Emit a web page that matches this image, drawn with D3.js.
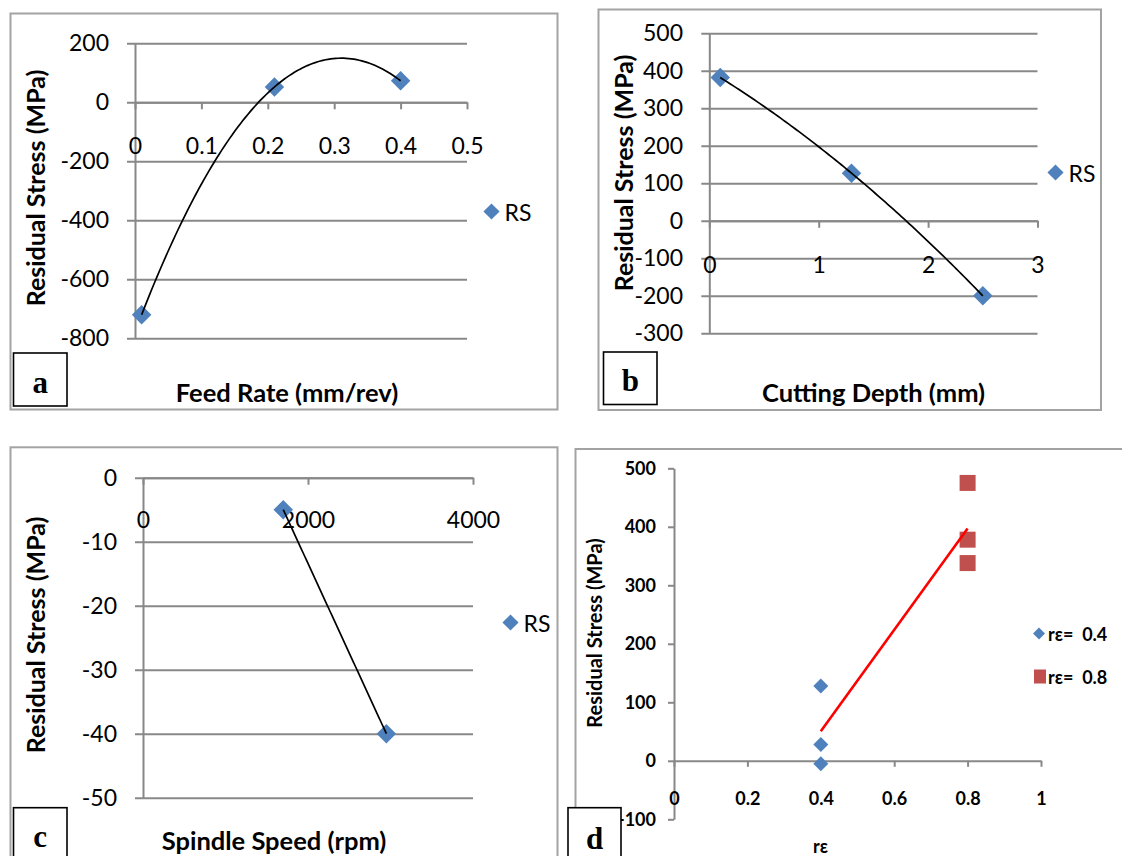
<!DOCTYPE html>
<html>
<head>
<meta charset="utf-8">
<script src="https://cdn.jsdelivr.net/npm/d3@7/dist/d3.min.js"></script>
<style>
  html, body { margin: 0; padding: 0; background: #fff; }
  svg { display: block; }
</style>
</head>
<body>
<svg id="chart" width="1122" height="856"></svg>
<script>
// ---- data ----
const feedRate = [0.01, 0.21, 0.40];
const rsFeed = [-720, 52, 73];
const feedTicks = [0, 0.1, 0.2, 0.3, 0.4, 0.5];
const rsFeedTicks = [200, 0, -200, -400, -600, -800];

const depth = [0.1, 1.3, 2.5];
const rsDepth = [382, 127, -200];
const depthTicks = [0, 1, 2, 3];
const rsDepthTicks = [500, 400, 300, 200, 100, 0, -100, -200, -300];

const speed = [1700, 2950];
const rsSpeed = [-5, -40];
const speedTicks = [0, 2000, 4000];
const rsSpeedTicks = [0, -10, -20, -30, -40, -50];

const radius04 = [0.4, 0.4, 0.4];
const rs04 = [128, 28, -5];
const radius08 = [0.8, 0.8, 0.8];
const rs08 = [475, 378, 338];
const radiusTicks = [0, 0.2, 0.4, 0.6, 0.8, 1];
const rsRadiusTicks = [500, 400, 300, 200, 100, 0, -100];

// ---- styles ----
const BLUE = "#4f81bd", RED = "#c0504d";
const GRID = "#888888", FRAME = "#a3a3a3";
const SANS = "Lato, 'Open Sans', sans-serif";
const SERIF = "'Liberation Serif', 'DejaVu Serif', serif";

// plain hyphen-minus numbers, as in spreadsheet output
const num = v => String(+v.toFixed(6));

const svg = d3.select("#chart");
svg.append("rect").attr("width", 1122).attr("height", 856).attr("fill", "#fff");

// least-squares polynomial fit (normal equations)
function polyfit(xs, ys, deg) {
  const n = deg + 1;
  const A = Array.from({length: n}, () => new Array(n + 1).fill(0));
  for (let r = 0; r < n; r++) {
    for (let c = 0; c < n; c++) A[r][c] = d3.sum(xs, x => Math.pow(x, r + c));
    A[r][n] = d3.sum(xs.map((x, i) => ys[i] * Math.pow(x, r)));
  }
  for (let i = 0; i < n; i++) {
    let p = i;
    for (let k = i + 1; k < n; k++) if (Math.abs(A[k][i]) > Math.abs(A[p][i])) p = k;
    [A[i], A[p]] = [A[p], A[i]];
    for (let k = i + 1; k < n; k++) {
      const f = A[k][i] / A[i][i];
      for (let j = i; j <= n; j++) A[k][j] -= f * A[i][j];
    }
  }
  const coef = new Array(n).fill(0);
  for (let i = n - 1; i >= 0; i--) {
    let s = A[i][n];
    for (let j = i + 1; j < n; j++) s -= A[i][j] * coef[j];
    coef[i] = s / A[i][i];
  }
  return x => coef.reduce((acc, c, i) => acc + c * Math.pow(x, i), 0);
}

const diamond = size => d3.symbol(d3.symbolSquare, size);

function frame(x0, y0, x1, y1) {
  svg.append("rect")
    .attr("x", x0).attr("y", y0).attr("width", x1 - x0).attr("height", y1 - y0)
    .attr("fill", "none").attr("stroke", FRAME).attr("stroke-width", 2);
}

function letterBox(x0, y0, x1, y1, letter, cy) {
  svg.append("rect")
    .attr("x", x0).attr("y", y0).attr("width", x1 - x0).attr("height", y1 - y0)
    .attr("fill", "#fff").attr("stroke", "#000").attr("stroke-width", 1.6);
  svg.append("text")
    .attr("x", (x0 + x1) / 2).attr("y", cy)
    .attr("text-anchor", "middle").attr("dominant-baseline", "central")
    .attr("font-family", SERIF).attr("font-weight", "bold").attr("font-size", 31)
    .text(letter);
}

function styleAxis(g, color, width) {
  g.selectAll("path.domain").attr("stroke", color).attr("stroke-width", width);
  g.selectAll(".tick line").attr("stroke", color).attr("stroke-width", width);
}

// Panels a, b, c: gridded scatter with trendline
function gridPanel(p) {
  frame(...p.frame);
  const x = d3.scaleLinear().domain(p.xDomain).range(p.xRange);
  const y = d3.scaleLinear().domain(p.yDomain).range(p.yRange);
  const fs = 23;

  // horizontal gridlines + y tick labels
  const gx = p.xRange[0] - 8;
  const gy = svg.append("g").attr("transform", `translate(${gx},0)`)
    .call(d3.axisLeft(y).tickValues(p.yTicks)
      .tickSizeInner(-(p.xRange[1] - gx)).tickSizeOuter(0)
      .tickPadding(gx - p.yLabelRight).tickFormat(num));
  gy.select("path.domain").remove();
  styleAxis(gy, GRID, 2);
  gy.selectAll("text").attr("font-family", SANS).attr("font-size", fs).attr("fill", "#000");

  // vertical axis line
  const va = svg.append("g").attr("transform", `translate(${p.xRange[0]},0)`)
    .call(d3.axisRight(y).tickValues([]).tickSizeOuter(0));
  styleAxis(va, GRID, 2);

  // horizontal axis at zero with downward ticks
  const y0 = y(0);
  const xa = svg.append("g").attr("transform", `translate(0,${y0})`)
    .call(d3.axisBottom(x).tickValues(p.xTicks).tickSizeInner(7).tickSizeOuter(0)
      .tickPadding(p.xLabelOffset - 7 - 0.36 * fs).tickFormat(num));
  styleAxis(xa, GRID, 2);
  xa.selectAll("text").attr("font-family", SANS).attr("font-size", fs).attr("fill", "#000");

  // markers
  svg.append("g").selectAll("path").data(p.xs.map((v, i) => [v, p.ys[i]])).join("path")
    .attr("d", diamond(190))
    .attr("transform", d => `translate(${x(d[0])},${y(d[1])}) rotate(45)`)
    .attr("fill", BLUE);

  // trendline
  const f = polyfit(p.xs, p.ys, p.deg);
  const lo = d3.min(p.xs), hi = d3.max(p.xs);
  const samples = d3.range(0, 101).map(i => lo + (hi - lo) * i / 100);
  svg.append("path")
    .attr("d", d3.line().x(v => x(v)).y(v => y(f(v)))(samples))
    .attr("fill", "none").attr("stroke", "#000").attr("stroke-width", 1.7);

  // legend
  svg.append("path").attr("d", diamond(130))
    .attr("transform", `translate(${p.legend[0]},${p.legend[1]}) rotate(45)`).attr("fill", BLUE);
  svg.append("text").attr("x", p.legend[0] + 13).attr("y", p.legend[1])
    .attr("dominant-baseline", "central")
    .attr("font-family", SANS).attr("font-size", fs).text("RS");

  // axis titles
  svg.append("text")
    .attr("transform", `translate(${p.yTitle[0]},${p.yTitle[1]}) rotate(-90)`)
    .attr("text-anchor", "middle").attr("dominant-baseline", "central")
    .attr("font-family", SANS).attr("font-weight", "bold").attr("font-size", 25)
    .text("Residual Stress (MPa)");
  svg.append("text")
    .attr("x", p.xTitle[0]).attr("y", p.xTitle[1])
    .attr("text-anchor", "middle").attr("dominant-baseline", "central")
    .attr("font-family", SANS).attr("font-weight", "bold").attr("font-size", 25.5)
    .text(p.xTitleText);

  letterBox(...p.box, p.letter, p.letterY);
}

gridPanel({
  frame: [10.5, 13.5, 557.5, 409.5],
  xDomain: [0, 0.5], xRange: [135, 467],
  yDomain: [-800, 200], yRange: [338.3, 43.3],
  xTicks: feedTicks, yTicks: rsFeedTicks,
  yLabelRight: 109, xLabelOffset: 43.5,
  xs: feedRate, ys: rsFeed, deg: 2,
  legend: [491.5, 211.5],
  yTitle: [35, 188], xTitle: [287, 392], xTitleText: "Feed Rate (mm/rev)",
  box: [13.5, 353, 67, 406], letter: "a", letterY: 382
});

gridPanel({
  frame: [598.5, 9.5, 1101, 410],
  xDomain: [0, 3], xRange: [709.3, 1037.5],
  yDomain: [-300, 500], yRange: [333.3, 33.3],
  xTicks: depthTicks, yTicks: rsDepthTicks,
  yLabelRight: 683, xLabelOffset: 44.2,
  xs: depth, ys: rsDepth, deg: 2,
  legend: [1055.5, 172.5],
  yTitle: [623, 173], xTitle: [873.5, 392], xTitleText: "Cutting Depth (mm)",
  box: [603.5, 352, 657, 404.5], letter: "b", letterY: 380
});

gridPanel({
  frame: [10.5, 447.3, 557.5, 880],
  xDomain: [0, 4000], xRange: [143, 473],
  yDomain: [-50, 0], yRange: [797.7, 477.7],
  xTicks: speedTicks, yTicks: rsSpeedTicks,
  yLabelRight: 117, xLabelOffset: 42.3,
  xs: speed, ys: rsSpeed, deg: 1,
  legend: [510.5, 622.5],
  yTitle: [35, 635], xTitle: [274, 840], xTitleText: "Spindle Speed (rpm)",
  box: [13.5, 807.7, 67, 880], letter: "c", letterY: 836
});

// Panel d: two groups with a linear fit through all points, no gridlines
(function () {
  frame(575.5, 449, 1140, 880);
  const x = d3.scaleLinear().domain([0, 1]).range([674, 1041]);
  const y = d3.scaleLinear().domain([-100, 500]).range([819.3, 468.3]);
  const fs = 18;

  const ya = svg.append("g").attr("transform", "translate(674,0)")
    .call(d3.axisLeft(y).tickValues(rsRadiusTicks).tickSizeInner(6).tickSizeOuter(0)
      .tickPadding(12).tickFormat(num));
  styleAxis(ya, GRID, 2);
  ya.selectAll("text").attr("font-family", SANS).attr("font-weight", "bold")
    .attr("font-size", fs).attr("fill", "#000");

  const xa = svg.append("g").attr("transform", `translate(0,${y(0)})`)
    .call(d3.axisBottom(x).tickValues(radiusTicks).tickSizeInner(6).tickSizeOuter(0)
      .tickPadding(38.3 - 6 - 0.36 * fs).tickFormat(num));
  styleAxis(xa, GRID, 2);
  xa.selectAll("text").attr("font-family", SANS).attr("font-weight", "bold")
    .attr("font-size", fs).attr("fill", "#000");

  svg.append("g").selectAll("path").data(radius04.map((v, i) => [v, rs04[i]])).join("path")
    .attr("d", diamond(112))
    .attr("transform", d => `translate(${x(d[0])},${y(d[1])}) rotate(45)`)
    .attr("fill", BLUE);
  svg.append("g").selectAll("rect").data(radius08.map((v, i) => [v, rs08[i]])).join("rect")
    .attr("x", d => x(d[0]) - 8).attr("y", d => y(d[1]) - 8)
    .attr("width", 16).attr("height", 16).attr("fill", RED);

  const allX = radius04.concat(radius08), allY = rs04.concat(rs08);
  const fit = polyfit(allX, allY, 1);
  const ends = d3.extent(allX);
  svg.append("line")
    .attr("x1", x(ends[0])).attr("y1", y(fit(ends[0])))
    .attr("x2", x(ends[1])).attr("y2", y(fit(ends[1])))
    .attr("stroke", "#ff0000").attr("stroke-width", 2.6);

  // legend
  svg.append("path").attr("d", diamond(72))
    .attr("transform", "translate(1039,633.5) rotate(45)").attr("fill", BLUE);
  svg.append("text").attr("x", 1048).attr("y", 634).attr("dominant-baseline", "central")
    .attr("font-family", SANS).attr("font-weight", "bold").attr("font-size", 18)
    .style("white-space", "pre")
    .text("rε=  0.4");
  svg.append("rect").attr("x", 1034).attr("y", 669.5).attr("width", 12).attr("height", 14)
    .attr("fill", RED);
  svg.append("text").attr("x", 1048).attr("y", 676.5).attr("dominant-baseline", "central")
    .attr("font-family", SANS).attr("font-weight", "bold").attr("font-size", 18)
    .style("white-space", "pre")
    .text("rε=  0.8");

  svg.append("text")
    .attr("transform", "translate(593.5,633) rotate(-90)")
    .attr("text-anchor", "middle").attr("dominant-baseline", "central")
    .attr("font-family", SANS).attr("font-weight", "bold").attr("font-size", 20)
    .text("Residual Stress (MPa)");
  svg.append("text").attr("x", 820.5).attr("y", 846)
    .attr("text-anchor", "middle").attr("dominant-baseline", "central")
    .attr("font-family", SANS).attr("font-weight", "bold").attr("font-size", 18)
    .text("rε");

  letterBox(568, 807.7, 621, 880, "d", 838);
})();
</script>
</body>
</html>
